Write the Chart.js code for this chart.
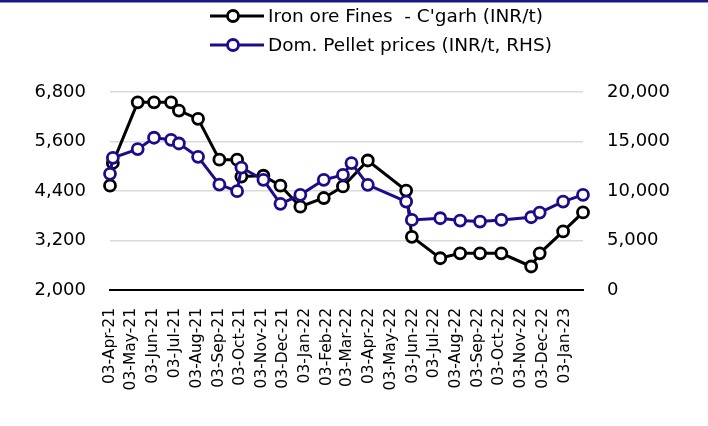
<!DOCTYPE html>
<html>
<head>
<meta charset="utf-8">
<script src="https://cdn.jsdelivr.net/npm/chart.js@4/dist/chart.umd.min.js"></script>
<style>
html,body{margin:0;padding:0;background:#fff;}
canvas{display:block;}
</style>
</head>
<body>
<canvas id="c" width="708" height="426"></canvas>
<script>
const ironLabel = "Iron ore Fines  - C'garh (INR/t)";
const pelletLabel = "Dom. Pellet prices (INR/t, RHS)";

const ironDates = ['2021-04-03','2021-04-07','2021-05-12','2021-06-04','2021-06-28','2021-07-09','2021-08-05','2021-09-04','2021-09-29','2021-10-05','2021-11-05','2021-11-29','2021-12-27','2022-01-29','2022-02-25','2022-04-01','2022-05-25','2022-06-02','2022-07-12','2022-08-09','2022-09-06','2022-10-06','2022-11-17','2022-11-29','2023-01-01','2023-01-29'];
const ironValues = [4530,5080,6550,6550,6550,6350,6150,5160,5160,4750,4770,4530,4020,4230,4510,5140,4410,3290,2770,2890,2890,2890,2570,2890,3420,3880];

const pelletDates = ['2021-04-03','2021-04-07','2021-05-12','2021-06-04','2021-06-28','2021-07-09','2021-08-05','2021-09-04','2021-09-29','2021-10-05','2021-11-05','2021-11-29','2021-12-27','2022-01-29','2022-02-25','2022-03-09','2022-04-01','2022-05-25','2022-06-02','2022-07-12','2022-08-09','2022-09-06','2022-10-06','2022-11-17','2022-11-29','2023-01-01','2023-01-29'];
const pelletValues = [11730,13350,14230,15380,15170,14800,13450,10650,9980,12370,11130,8700,9610,11130,11630,12820,10620,8930,7080,7250,7010,6910,7080,7350,7820,8930,9610];

const tickDates = ['2021-04-03','2021-05-03','2021-06-03','2021-07-03','2021-08-03','2021-09-03','2021-10-03','2021-11-03','2021-12-03','2022-01-03','2022-02-03','2022-03-03','2022-04-03','2022-05-03','2022-06-03','2022-07-03','2022-08-03','2022-09-03','2022-10-03','2022-11-03','2022-12-03','2023-01-03'];
const tickLabels = ['03-Apr-21','03-May-21','03-Jun-21','03-Jul-21','03-Aug-21','03-Sep-21','03-Oct-21','03-Nov-21','03-Dec-21','03-Jan-22','03-Feb-22','03-Mar-22','03-Apr-22','03-May-22','03-Jun-22','03-Jul-22','03-Aug-22','03-Sep-22','03-Oct-22','03-Nov-22','03-Dec-22','03-Jan-23'];
const leftTicks = [2000,3200,4400,5600,6800];
const rightTicks = [0,5000,10000,15000,20000];

const dayNum = s => { const p = s.split('-').map(Number); return Date.UTC(p[0], p[1]-1, p[2]) / 864e5; };

const FONT = '"DejaVu Sans", sans-serif';
const legendRows = [16, 45];

const decor = {
  id: 'decor',
  afterDraw(chart) {
    const ctx = chart.ctx;
    ctx.save();
    ctx.fillStyle = '#1a1a84';
    ctx.fillRect(0, 0, chart.width, 2.5);
    chart.data.datasets.forEach((ds, i) => {
      const y = legendRows[i];
      ctx.strokeStyle = ds.borderColor;
      ctx.lineWidth = 3;
      ctx.beginPath(); ctx.moveTo(210, y); ctx.lineTo(264, y); ctx.stroke();
      ctx.beginPath(); ctx.arc(233, y, 5.5, 0, 2*Math.PI);
      ctx.fillStyle = '#fff'; ctx.fill();
      ctx.lineWidth = 2.8; ctx.stroke();
      ctx.fillStyle = '#000';
      ctx.font = '18.5px ' + FONT;
      ctx.textAlign = 'left'; ctx.textBaseline = 'middle';
      ctx.fillText(ds.label, 268, y + 1);
    });
    const xs = chart.scales.x;
    ctx.font = '15.5px ' + FONT;
    ctx.fillStyle = '#000';
    ctx.textAlign = 'right'; ctx.textBaseline = 'middle';
    tickDates.forEach((d, i) => {
      const px = xs.getPixelForValue(dayNum(d));
      ctx.save();
      ctx.translate(px, 308);
      ctx.rotate(-Math.PI/2);
      ctx.fillText(tickLabels[i], 0, 0);
      ctx.restore();
    });
    ctx.restore();
  }
};

const fmt = v => Number(v).toLocaleString('en-US');

new Chart(document.getElementById('c'), {
  type: 'line',
  data: {
    datasets: [
      {
        label: ironLabel,
        data: ironDates.map((d, i) => ({x: dayNum(d), y: ironValues[i]})),
        yAxisID: 'y',
        borderColor: '#000000',
        backgroundColor: '#ffffff',
        borderWidth: 3,
        pointRadius: 5.5,
        pointBorderWidth: 2.8,
        pointBackgroundColor: '#ffffff',
        pointBorderColor: '#000000',
        tension: 0,
        clip: false,
        order: 2
      },
      {
        label: pelletLabel,
        data: pelletDates.map((d, i) => ({x: dayNum(d), y: pelletValues[i]})),
        yAxisID: 'y2',
        borderColor: '#1c0c8c',
        backgroundColor: '#ffffff',
        borderWidth: 3,
        pointRadius: 5.5,
        pointBorderWidth: 2.8,
        pointBackgroundColor: '#ffffff',
        pointBorderColor: '#1c0c8c',
        tension: 0,
        clip: false,
        order: 1
      }
    ]
  },
  options: {
    responsive: false,
    animation: false,
    events: [],
    layout: { padding: { top: 92, left: 0, right: 0, bottom: 0 } },
    plugins: { legend: { display: false }, tooltip: { enabled: false } },
    scales: {
      x: {
        type: 'linear',
        min: dayNum(ironDates[0]),
        max: dayNum(ironDates[ironDates.length - 1]),
        grid: { display: false, drawTicks: false },
        border: { display: true, color: '#000', width: 2 },
        ticks: { display: false },
        afterBuildTicks: s => { s.ticks = tickDates.map(d => ({value: dayNum(d)})); },
        afterFit: s => { s.height = 136; }
      },
      y: {
        position: 'left',
        min: 2000, max: 6800,
        afterBuildTicks: s => { s.ticks = leftTicks.map(v => ({value: v})); },
        grid: { color: '#d9d9d9', lineWidth: 1.5, drawTicks: false },
        border: { display: false },
        ticks: { padding: 24, color: '#000', font: { family: FONT, size: 18 }, callback: fmt },
        afterFit: s => { s.width = 110; }
      },
      y2: {
        position: 'right',
        min: 0, max: 20000,
        afterBuildTicks: s => { s.ticks = rightTicks.map(v => ({value: v})); },
        grid: { display: false, drawTicks: false },
        border: { display: false },
        ticks: { padding: 24, color: '#000', font: { family: FONT, size: 18 }, callback: fmt },
        afterFit: s => { s.width = 125; }
      }
    }
  },
  plugins: [decor]
});
</script>
</body>
</html>
